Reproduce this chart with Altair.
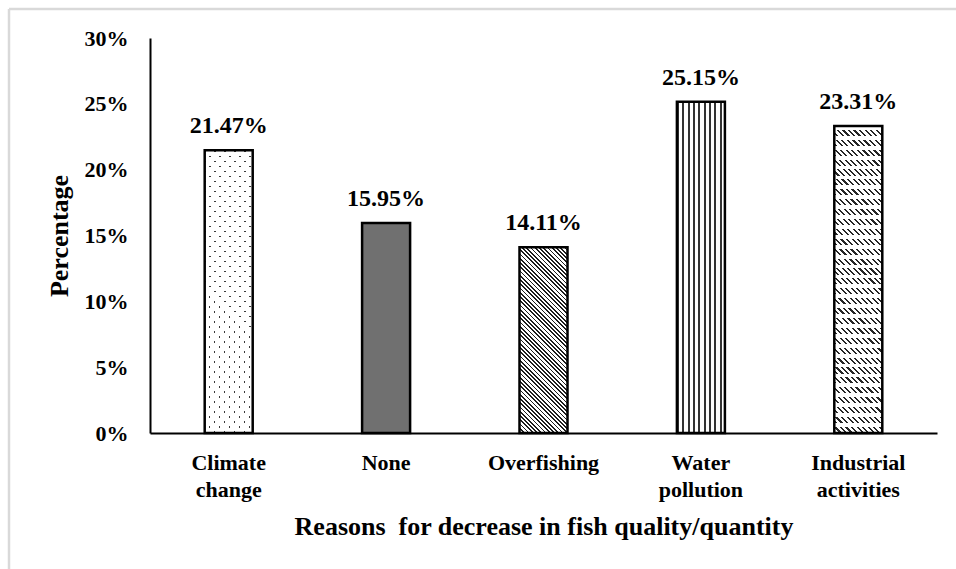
import math

import altair as alt
import pandas as pd

# Survey results: reasons given for the decrease in fish quality/quantity
reasons = ["Climate change", "None", "Overfishing", "Water pollution", "Industrial activities"]
percent = [21.47, 15.95, 14.11, 25.15, 23.31]
y_ticks = [0, 5, 10, 15, 20, 25, 30]
y_max = 30

PLOT_W, PLOT_H = 787, 395
BAR_W = 48
FONT = "Liberation Serif"
CLEAR = "rgba(255,255,255,0)"

df = pd.DataFrame({"reason": reasons, "pct": percent})


def stripe_stops(n, ink, paper, share):
    """Hard-edged repeating stops: `share` of every period is ink."""
    stops = []
    for k in range(n):
        a, b, c = k / n, (k + share) / n, (k + 1) / n
        stops += [
            alt.GradientStop(offset=a, color=ink),
            alt.GradientStop(offset=b, color=ink),
            alt.GradientStop(offset=b, color=paper),
            alt.GradientStop(offset=c, color=paper),
        ]
    return stops


def bar_height(value):
    return value / y_max * PLOT_H


def back_diagonal(h, period, ink, paper, share):
    # "\" lines at 45 degrees in pixel space for a BAR_W x h rectangle
    w = BAR_W
    k = (w + h) * w * h / (w * w + h * h)
    n = max(1, round((w + h) / math.sqrt(2) / period))
    return alt.LinearGradient(gradient="linear", x1=0, y1=1, x2=k / h, y2=1 - k / w,
                              stops=stripe_stops(n, ink, paper, share))


def fwd_diagonal(h, period, ink, paper, share):
    # "/" lines at 45 degrees in pixel space
    w = BAR_W
    k = (w + h) * w * h / (w * w + h * h)
    n = max(1, round((w + h) / math.sqrt(2) / period))
    return alt.LinearGradient(gradient="linear", x1=0, y1=0, x2=k / h, y2=k / w,
                              stops=stripe_stops(n, ink, paper, share))


def vertical_lines(period, ink, paper, share):
    n = max(1, round(BAR_W / period))
    return alt.LinearGradient(gradient="linear", x1=0, y1=0, x2=1, y2=0,
                              stops=stripe_stops(n, ink, paper, share))


def horizontal_bands(h, period, ink, paper, share):
    n = max(1, round(h / period))
    return alt.LinearGradient(gradient="linear", x1=0, y1=0, x2=0, y2=1,
                              stops=stripe_stops(n, ink, paper, share))


h = {r: bar_height(v) for r, v in zip(reasons, percent)}

# Fill layers for each bar, bottom to top
fills = {
    "Climate change": [
        back_diagonal(h["Climate change"], 7.07, "#3a3a3a", "white", 0.2),
        fwd_diagonal(h["Climate change"], 7.07, CLEAR, "white", 0.2),
    ],
    "None": ["#707070"],
    "Overfishing": [
        back_diagonal(h["Overfishing"], 3.0, "#1e1e1e", "white", 0.42),
    ],
    "Water pollution": [
        vertical_lines(5.3, "#333333", "white", 0.4),
    ],
    "Industrial activities": [
        back_diagonal(h["Industrial activities"], 3.9, "#262626", "white", 0.4),
        horizontal_bands(h["Industrial activities"], 10.0, "white", CLEAR, 0.38),
    ],
}

x_enc = alt.X(
    "reason:N",
    scale=alt.Scale(domain=reasons, paddingInner=0, paddingOuter=0),
    axis=alt.Axis(
        title="Reasons\u00a0 for decrease in fish quality/quantity",
        labelAngle=0,
        labelExpr="split(datum.label, ' ')",
        labelLineHeight=27,
        labelPadding=19,
        labelFont=FONT,
        labelFontSize=22,
        labelFontWeight="bold",
        labelColor="black",
        ticks=False,
        domainColor="black",
        domainWidth=2,
        titleFont=FONT,
        titleFontSize=26,
        titleFontWeight="bold",
        titleColor="black",
        titleBaseline="alphabetic",
        titleY=101,
    ),
)
y_enc = alt.Y(
    "pct:Q",
    scale=alt.Scale(domain=[0, y_max], nice=False),
    axis=alt.Axis(
        title="Percentage",
        values=y_ticks,
        labelExpr="datum.value + '%'",
        labelPadding=22,
        labelFont=FONT,
        labelFontSize=22,
        labelFontWeight="bold",
        labelColor="black",
        ticks=False,
        grid=False,
        domainColor="black",
        domainWidth=2,
        titleFont=FONT,
        titleFontSize=26,
        titleFontWeight="bold",
        titleColor="black",
        titleBaseline="alphabetic",
        titleAlign="center",
        titleX=-83,
        titleY=PLOT_H / 2,
    ),
)

base = alt.Chart(df).encode(x=x_enc, y=y_enc)

layers = []
for name in reasons:
    for f in fills[name]:
        layers.append(
            base.transform_filter(alt.datum.reason == name).mark_bar(
                size=BAR_W, fill=f, strokeWidth=0
            )
        )

outline = base.mark_bar(size=BAR_W, fillOpacity=0, stroke="black", strokeWidth=2.5)

labels = base.transform_calculate(
    label="format(datum.pct, '.2f') + '%'"
).mark_text(
    dy=-17, baseline="alphabetic", font=FONT, fontSize=24, fontWeight="bold", color="black"
).encode(text="label:N")

# Light outer frame
frame_src = alt.Data(values=[{}])
frame_left = alt.Chart(frame_src).mark_rule(color="#d9d9d9", strokeWidth=2.5).encode(
    x=alt.value(-141), y=alt.value(-29), y2=alt.value(PLOT_H + 150)
)
frame_top = alt.Chart(frame_src).mark_rule(color="#d9d9d9", strokeWidth=2.5).encode(
    x=alt.value(-141), x2=alt.value(PLOT_W + 30), y=alt.value(-29)
)

chart = alt.layer(frame_left, frame_top, *layers, outline, labels).properties(
    width=PLOT_W,
    height=PLOT_H,
    padding={"left": 150, "top": 38, "right": 19, "bottom": 136},
    autosize=alt.AutoSizeParams(type="none"),
    background="white",
).configure_view(strokeWidth=0)

chart.save("out.html", embed_options={"renderer": "svg", "actions": False})
